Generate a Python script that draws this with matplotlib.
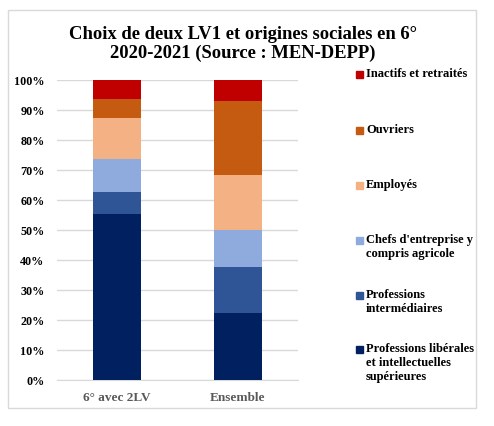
import matplotlib.pyplot as plt
import numpy as np
from matplotlib.patches import Rectangle
from matplotlib.ticker import PercentFormatter

# -----------------------------
# Data (share of each social origin, %)
# -----------------------------
groups = ["6° avec 2LV", "Ensemble"]
categories = [
    "Professions libérales\net intellectuelles\nsupérieures",
    "Professions\nintermédiaires",
    "Chefs d'entreprise y\ncompris agricole",
    "Employés",
    "Ouvriers",
    "Inactifs et retraités",
]
plis = [55.2, 22.2]
pi = [7.4, 15.4]
chefs = [11.0, 12.3]
employes = [13.6, 18.3]
ouvriers = [6.4, 24.7]
inactifs = [6.4, 7.1]
colors = ["#002060", "#2F5597", "#8FAADC", "#F4B183", "#C55A11", "#C00000"]

series = [plis, pi, chefs, employes, ouvriers, inactifs]

serif = ["Liberation Serif", "DejaVu Serif"]

fig = plt.figure(figsize=(4.94, 4.27), dpi=100)
ax = fig.add_axes([0.1154, 0.1084, 0.4878, 0.7026])

x = np.arange(len(groups))
bottom = np.zeros(len(groups))
for vals, col in zip(series, colors):
    ax.bar(x, vals, 0.4, bottom=bottom, color=col, zorder=3)
    bottom += np.array(vals)

ax.set_xlim(-0.5, 1.5)
ax.set_ylim(0, 100)
ax.set_yticks(np.arange(0, 101, 10))
ax.yaxis.set_major_formatter(PercentFormatter(decimals=0))
ax.grid(axis="y", color="#D9D9D9", linewidth=1, zorder=0)
for s in ["top", "right", "left"]:
    ax.spines[s].set_visible(False)
ax.spines["bottom"].set_color("#D9D9D9")
ax.tick_params(length=0)
ax.tick_params(axis="y", pad=9)
ax.tick_params(axis="x", pad=8)
ax.set_xticks(x)
ax.set_xticklabels(groups)
for lab in ax.get_yticklabels():
    lab.set_family(serif)
    lab.set_fontweight("bold")
    lab.set_fontsize(8.7)
for lab in ax.get_xticklabels():
    lab.set_family(serif)
    lab.set_fontweight("bold")
    lab.set_fontsize(9.5)
    lab.set_color("#595959")

# Title
fig.text(0.492, 0.897, "Choix de deux LV1 et origines sociales en 6°\n2020-2021 (Source : MEN-DEPP)",
         ha="center", va="center", family=serif, fontweight="bold",
         fontsize=13.4, linespacing=1.12)

# Legend (manual, Excel-like spacing)
W, H = 494, 427
first_line_y = [350, 296, 241, 186, 131, 75]
for label, col, yy in zip(categories, colors, first_line_y):
    fig.patches.append(Rectangle((356 / W, 1 - (yy + 4) / H), 7 / W, 7 / H,
                                 transform=fig.transFigure, color=col))
    fig.text(366 / W, 1 - (yy - 7) / H, label, ha="left", va="top",
             family=serif, fontweight="bold", fontsize=9, linespacing=1.2)

# Frame
fig.patches.append(Rectangle((8 / W, 1 - 409 / H), 468 / W, 398 / H,
                             transform=fig.transFigure, fill=False,
                             edgecolor="#D9D9D9", linewidth=1))

plt.savefig("out.png", dpi=100)
